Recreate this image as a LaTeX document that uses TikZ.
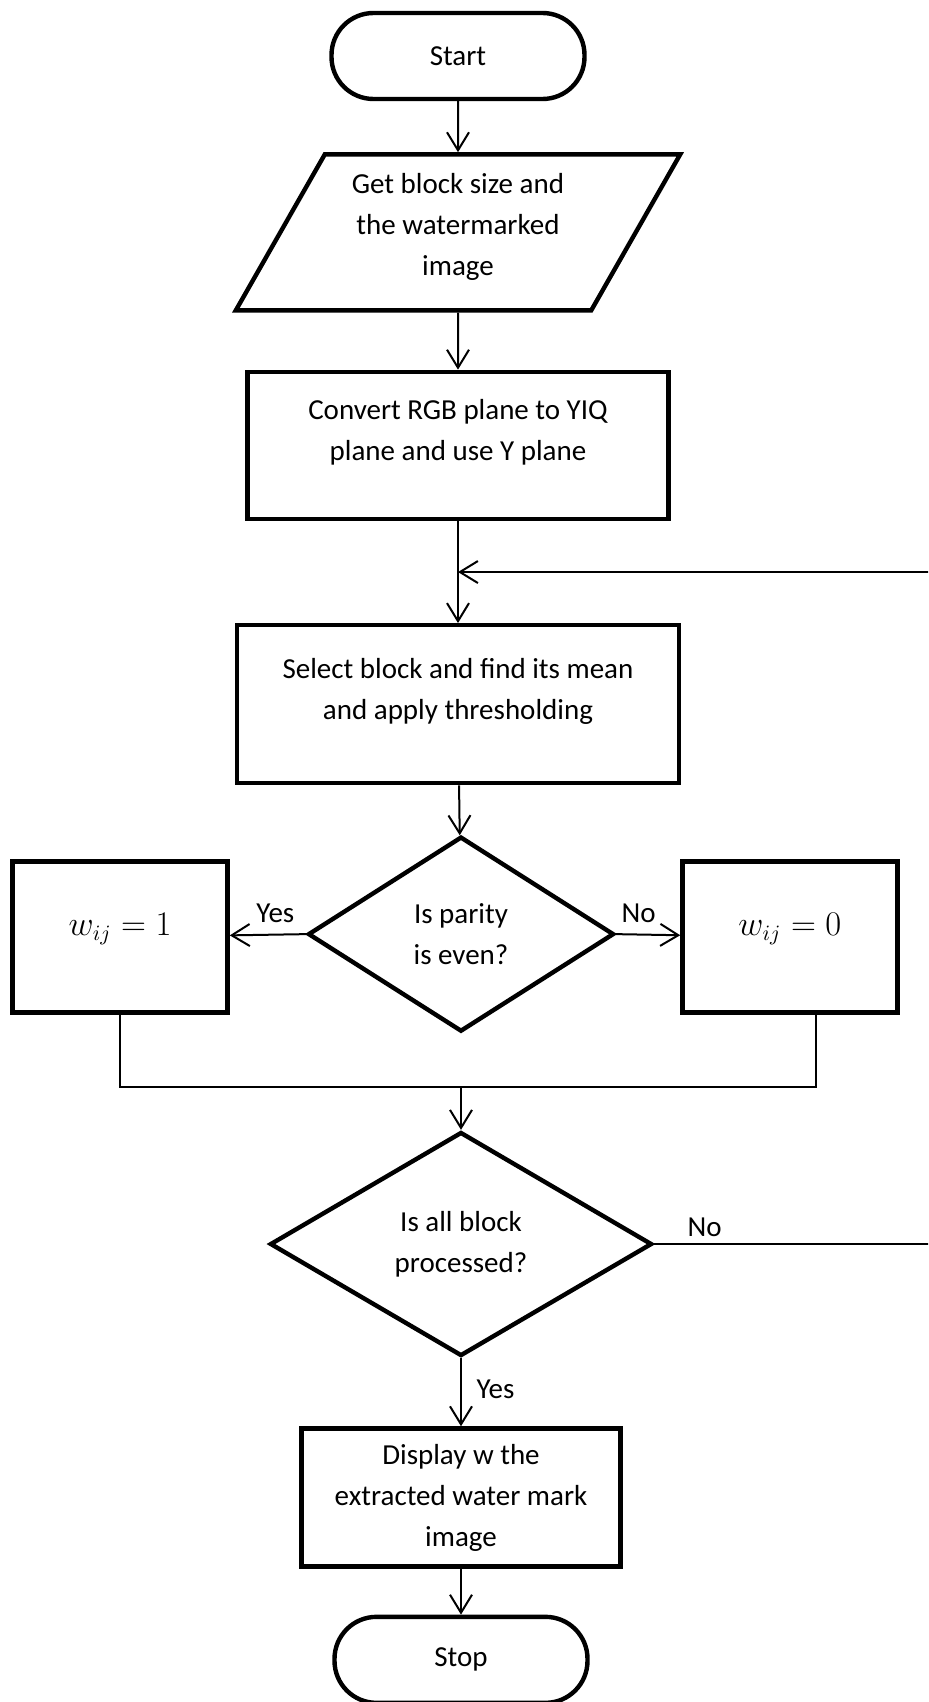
\documentclass[tikz,border=0pt]{standalone}
\usepackage{fontspec}
\setmainfont{Carlito}
\usetikzlibrary{arrows.meta,positioning,calc,shapes.geometric}

\begin{document}
\begin{tikzpicture}[
  font=\fontsize{14.5}{20.5}\selectfont,
  node distance=25pt and 36pt,
  term/.style={draw, line width=2.2pt, rounded corners=21pt, minimum width=126.5pt, minimum height=43pt},
  io/.style={draw, line width=2.2pt, trapezium, trapezium left angle=60, trapezium right angle=120, trapezium stretches=true, minimum width=222.5pt, minimum height=78pt, align=center},
  box/.style={draw, line width=2.2pt, align=center},
  decision/.style={draw, line width=2.2pt, diamond, inner sep=0pt, align=center},
  wbox/.style={box, minimum width=107.5pt, minimum height=75.5pt, font=\fontsize{16}{20.5}\selectfont},
  arr/.style={-{Straight Barb[length=9pt,width=11pt]}, line width=1pt},
  thinline/.style={line width=0.7pt}
]
\useasboundingbox (0,0) rectangle (464pt,-851pt);
\clip (0,0) rectangle (464pt,-851pt);

\node[term] (start) at (229pt,-28pt) {Start};
\node[io, below=25.5pt of start] (input) {Get block size and\\the watermarked\\image\\[-13pt]};
\node[box, below=28.5pt of input, minimum width=210.5pt, minimum height=73.5pt] (convert) {Convert RGB plane to YIQ\\plane and use Y plane\\[-5.5pt]};
\node[box, below=51pt of convert, minimum width=221pt, minimum height=79pt] (select) {Select block and find its mean\\and apply thresholding\\[-5.5pt]};
\node[decision, below=24.5pt of select, minimum width=153pt, minimum height=97.5pt, xshift=1.5pt] (parity) {Is parity\\is even?};
\node[wbox, left=38pt of parity, yshift=-1.5pt] (one) {$w_{ij} = 1$\\[-7.5pt]};
\node[wbox, right=32pt of parity, yshift=-1.5pt] (zero) {$w_{ij} = 0$\\[-7.5pt]};
\node[decision, below=48pt of parity, minimum width=191pt, minimum height=112pt] (done) {Is all block\\processed?};
\node[box, below=34pt of done, minimum width=159.5pt, minimum height=69pt] (show) {Display w the\\extracted water mark\\image};
\node[term, below=23pt of show] (stop) {Stop};

\coordinate[below=36pt of one] (m1);
\coordinate (m0) at ($(zero.south)+(13pt,0)$);
\coordinate (back) at ($(convert.south)!0.5!(select.north)$);

\draw[arr] (start) -- (input);
\draw[arr] (input) -- (convert);
\draw[arr] (convert) -- (select);
\draw[arr] (select) -- (parity);
\draw[arr] (parity.west) -- node[above, pos=0.4, yshift=2pt] {Yes} (one);
\draw[arr] (parity.east) -- node[above, pos=0.35, yshift=2pt] {No} (zero);
\draw[thinline] (one) -- (m1) -| (m0);
\draw[arr] (m1 -| parity) -- (done);
\draw[arr] (done.east) -- node[above, pos=0.14] {No} ++(180pt,0) |- (back);
\draw[arr] (done) -- node[right, pos=0.45, xshift=4pt] {Yes} (show);
\draw[arr] (show) -- (stop);
\end{tikzpicture}
\end{document}
